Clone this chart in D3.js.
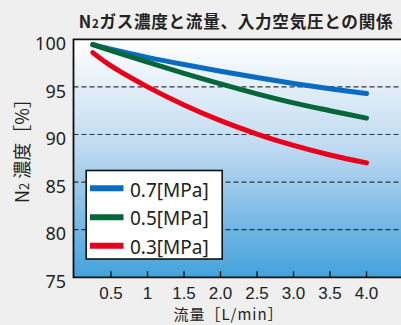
<!DOCTYPE html>
<html><head><meta charset="utf-8">
<script src="https://cdn.jsdelivr.net/npm/d3@7"></script>
<style>
html,body{margin:0;padding:0;background:#efefef;}
svg{display:block;}
text{font-family:"Noto Sans","Noto Sans CJK JP",sans-serif;fill:#222;}
</style></head>
<body>
<svg id="c" width="401" height="325"></svg>
<script>
const flow = [0.25, 0.5, 1.0, 1.5, 2.0, 2.5, 3.0, 3.5, 4.0];
const p07 = [99.45, 98.95, 98.1, 97.35, 96.65, 95.98, 95.36, 94.8, 94.3];
const p05 = [99.45, 98.82, 97.6, 96.42, 95.32, 94.27, 93.32, 92.5, 91.72];
const p03 = [98.6, 97.2, 95.0, 93.1, 91.45, 90.05, 88.85, 87.85, 87.02];
const seriesNames = ["0.7[MPa]", "0.5[MPa]", "0.3[MPa]"];
const seriesColors = ["#0a6cc0", "#05663a", "#e8001a"];
const xTicks = [0.5, 1, 1.5, 2, 2.5, 3, 3.5, 4];
const xTickLabels = ["0.5", "1", "1.5", "2.0", "2.5", "3.0", "3.5", "4.0"];
const yTicks = [75, 80, 85, 90, 95, 100];
const gridVals = [80, 85, 90, 95];

const svg = d3.select("#c");
const L = 73.5, T = 39.3, B = 277.3, R = 403;
const x = d3.scaleLinear().domain([0, 4.5]).range([74.5, 403]);
const y = d3.scaleLinear().domain([75, 100]).range([B, T]);

const defs = svg.append("defs");
const g = defs.append("linearGradient").attr("id","bg").attr("x1",0).attr("y1",0).attr("x2",0).attr("y2",1);
g.append("stop").attr("offset","0%").attr("stop-color","#ffffff");
g.append("stop").attr("offset","45%").attr("stop-color","#c0daf1");
g.append("stop").attr("offset","100%").attr("stop-color","#43a2dc");

svg.append("rect").attr("x",L).attr("y",T).attr("width",R-L).attr("height",B-T).attr("fill","url(#bg)");

// grid
svg.append("g").selectAll("line").data(gridVals).join("line")
  .attr("x1",L).attr("x2",R).attr("y1",d=>y(d)).attr("y2",d=>y(d))
  .attr("stroke","#333").attr("stroke-width",1.2).attr("stroke-dasharray","5,3");

// x ticks (inward)
svg.append("g").selectAll("line").data(xTicks).join("line")
  .attr("x1",d=>x(d)).attr("x2",d=>x(d)).attr("y1",B).attr("y2",B-6)
  .attr("stroke","#111").attr("stroke-width",1.3);

// border
svg.append("path").attr("d",`M${R},${T}H${L}V${B}H${R}`).attr("fill","none").attr("stroke","#111").attr("stroke-width",1.8);

// lines
const line = d3.line().x((d,i)=>x(flow[i])).y(d=>y(d)).curve(d3.curveCatmullRom.alpha(0.5));
[p07,p05,p03].forEach((s,i)=>{
  svg.append("path").attr("d",line(s)).attr("fill","none")
    .attr("stroke",seriesColors[i]).attr("stroke-width",5).attr("stroke-linecap","round");
});

// y tick labels
svg.append("g").selectAll("text").data(yTicks).join("text")
  .attr("x",66).attr("y",d=>y(d)+10.7).attr("text-anchor","end")
  .attr("font-size",18).text(d=>d);

// x tick labels
svg.append("g").selectAll("text").data(xTicks).join("text")
  .attr("x",d=>x(d)).attr("y",298.6).attr("text-anchor","middle")
  .attr("font-size",17).style("font-family",'"Liberation Sans",sans-serif')
  .text((d,i)=>xTickLabels[i]);

// legend
const lg = svg.append("g");
lg.append("rect").attr("x",86.2).attr("y",170.5).attr("width",136).attr("height",88.5)
  .attr("fill","#fff").attr("stroke","#111").attr("stroke-width",1.6);
const rowY = [188.3, 217.2, 245.7];
seriesNames.forEach((n,i)=>{
  lg.append("line").attr("x1",90).attr("x2",123.5).attr("y1",rowY[i]).attr("y2",rowY[i])
    .attr("stroke",seriesColors[i]).attr("stroke-width",6);
  lg.append("text").attr("x",130).attr("y",rowY[i]+8.2).attr("font-size",19).text(n);
});

// title
const t = svg.append("text").attr("x",236).attr("y",28).attr("text-anchor","middle")
  .attr("font-size",16.6).attr("font-weight","bold").attr("letter-spacing",0.7)
  .style("font-family",'"Noto Sans CJK JP",sans-serif');
t.append("tspan").text("N");
t.append("tspan").attr("font-size",11.5).text("2");
t.append("tspan").text("ガス濃度と流量、入力空気圧との関係");

// y axis label
const yl = svg.append("text").attr("transform","translate(29,146.5) rotate(-90)")
  .attr("text-anchor","middle").attr("font-size",18)
  .style("font-family",'"Noto Sans CJK JP",sans-serif');
yl.append("tspan").text("N");
yl.append("tspan").attr("font-size",13).text("2");
yl.append("tspan").text(" 濃度［%］");

// x axis label
svg.append("text").attr("x",228.5).attr("y",320.4).attr("text-anchor","middle")
  .attr("font-size",15).attr("letter-spacing",1)
  .style("font-family",'"Noto Sans CJK JP",sans-serif')
  .text("流量［L/min］");
</script>
</body></html>
